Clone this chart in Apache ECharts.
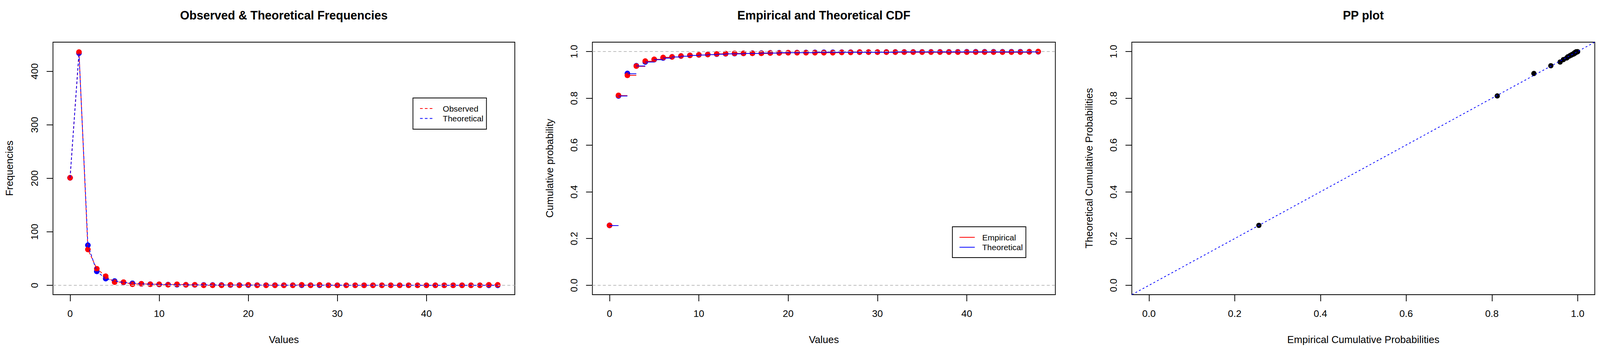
<!DOCTYPE html>
<html>
<head>
<meta charset="utf-8">
<script src="https://cdn.jsdelivr.net/npm/echarts@6/dist/echarts.min.js"></script>
<style>
html,body{margin:0;padding:0;background:#fff;overflow:hidden;}
#c{width:100vw;height:100vh;}
</style>
</head>
<body>
<div id="c"></div>
<script>
// ---------- data ----------
const values = [0,1,2,3,4,5,6,7,8,9,10,11,12,13,14,15,16,17,18,19,20,21,22,23,24,25,26,27,28,29,30,31,32,33,34,35,36,37,38,39,40,41,42,43,44,45,46,47,48];
const obsFreq = [201,436,67,31,17,6,6,2,3,2, 2,1,2,1,1,0,0,0,1,0, 1,0,0,0,0,0,1,0,1,0, 0,0,0,0,0,0,0,0,0,0, 0,0,0,0,0,0,0,1,1];
const theoFreq = [201,434,75,26,12.5,8,5.5,3.8,2.8,2.1, 1.7,1.4,1.15,0.97,0.83,0.72,0.63,0.55,0.49,0.44, 0.39,0.35,0.32,0.29,0.26,0.24,0.22,0.2,0.18,0.17, 0.16,0.15,0.14,0.13,0.12,0.11,0.1,0.095,0.09,0.085, 0.08,0.075,0.07,0.066,0.062,0.058,0.055,0.052,0.049];
const empCdf = [0.2564,0.8125,0.8980,0.9375,0.9592,0.9668,0.9745,0.9770,0.9809,0.9834, 0.9860,0.9872,0.9898,0.9911,0.9923,0.9923,0.9923,0.9923,0.9936,0.9936, 0.9949,0.9949,0.9949,0.9949,0.9949,0.9949,0.9962,0.9962,0.9974,0.9974, 0.9974,0.9974,0.9974,0.9974,0.9974,0.9974,0.9974,0.9974,0.9974,0.9974, 0.9974,0.9974,0.9974,0.9974,0.9974,0.9974,0.9974,0.9987,1.0];
const theoCdf = [0.2565,0.8100,0.9060,0.9392,0.9551,0.9653,0.9723,0.9772,0.9807,0.9834, 0.9856,0.9874,0.9888,0.9901,0.9911,0.9920,0.9928,0.9935,0.9941,0.9947, 0.9952,0.9956,0.9960,0.9963,0.9966,0.9968,0.9970,0.9972,0.9974,0.9976, 0.9977,0.9978,0.9979,0.9980,0.9981,0.9982,0.9983,0.9984,0.9985,0.9986, 0.9987,0.9988,0.9988,0.9989,0.9989,0.9990,0.9990,0.9991,0.9991];
const xTicks = [0,10,20,30,40];
const freqTicks = [0,100,200,300,400];
const probTicks = [0,0.2,0.4,0.6,0.8,1.0];
const titles = ['Observed & Theoretical Frequencies','Empirical and Theoretical CDF','PP plot'];
const xNames = ['Values','Values','Empirical Cumulative Probabilities'];
const yNames = ['Frequencies','Cumulative probability','Theoretical Cumulative Probabilities'];
const legend1 = ['Observed','Theoretical'];
const legend2 = ['Empirical','Theoretical'];

// ---------- layout / style (in reference pixels, scaled to the viewport) ----------
const S = window.innerWidth / 4289;
const SY = window.innerHeight / 907;
const px = v => v * S;
const py = v => v * SY;
const FONT = 'Liberation Sans';
const RED = '#ff0000', BLUE = '#0000ff', GREY = '#bebebe';
const gridPx = [
  {left:142, top:108, width:1238, height:647},
  {left:1588, top:108, width:1241, height:647},
  {left:3034, top:108, width:1241, height:647}
];
const grids = gridPx.map(g => ({left:px(g.left), top:py(g.top), width:px(g.width), height:py(g.height)}));

function xAxisCfg(i, min, max, ticks, fmt){
  return {
    type:'value', gridIndex:i, min:min, max:max, splitLine:{show:false},
    axisLine:{show:false, onZero:false},
    axisTick:{show:true, inside:false, length:py(17), customValues:ticks, lineStyle:{color:'#000', width:px(2)}},
    axisLabel:{show:true, customValues:ticks, margin:py(36), fontSize:px(26), fontFamily:FONT, color:'#000', formatter:fmt}
  };
}
function yAxisCfg(i, min, max, ticks, fmt){
  return {
    type:'value', gridIndex:i, min:min, max:max, splitLine:{show:false},
    axisLine:{show:false, onZero:false},
    axisTick:{show:true, inside:false, length:px(17), customValues:ticks, lineStyle:{color:'#000', width:px(2)}},
    axisLabel:{show:true, customValues:ticks, margin:px(36), rotate:90, fontSize:px(26), fontFamily:FONT, color:'#000', formatter:fmt}
  };
}
const intFmt = v => String(Math.round(v));
const decFmt = v => Number(v).toFixed(1);

const pts = (xs, ys) => xs.map((x,i)=>[x, ys[i]]);
// horizontal step from each value to the next one
const steps = (xs, ys) => xs.slice(0, -1).map((x,i)=>({coords:[[x, ys[i]],[xs[i+1], ys[i]]]}));
const dash = [px(7),px(5)];
const DOT = px(15);
const dot = c => ({color:c, opacity:1});

const series = [
  // panel 1
  {type:'scatter', xAxisIndex:0, yAxisIndex:0, data:pts(values, theoFreq), symbolSize:DOT, itemStyle:dot(BLUE), z:2,
   markLine:{silent:true, symbol:'none', label:{show:false}, lineStyle:{color:GREY, type:[px(8),px(6)], width:px(2), opacity:1}, data:[{yAxis:0}]}},
  {type:'scatter', xAxisIndex:0, yAxisIndex:0, data:pts(values, obsFreq), symbolSize:DOT, itemStyle:dot(RED), z:3},
  {type:'line', xAxisIndex:0, yAxisIndex:0, data:pts(values, obsFreq), showSymbol:false, lineStyle:{color:RED, width:px(2), type:dash, opacity:1}, z:4},
  {type:'line', xAxisIndex:0, yAxisIndex:0, data:pts(values, theoFreq), showSymbol:false, lineStyle:{color:BLUE, width:px(2), type:dash, opacity:1}, z:5},
  // panel 2
  {type:'scatter', xAxisIndex:1, yAxisIndex:1, data:pts(values, theoCdf), symbolSize:DOT, itemStyle:dot(BLUE), z:2,
   markLine:{silent:true, symbol:'none', label:{show:false}, lineStyle:{color:GREY, type:[px(8),px(6)], width:px(2), opacity:1}, data:[{yAxis:0},{yAxis:1}]}},
  {type:'scatter', xAxisIndex:1, yAxisIndex:1, data:pts(values, empCdf), symbolSize:DOT, itemStyle:dot(RED), z:3},
  {type:'lines', coordinateSystem:'cartesian2d', xAxisIndex:1, yAxisIndex:1, data:steps(values, empCdf), lineStyle:{color:RED, width:px(2), opacity:1}, z:4},
  {type:'lines', coordinateSystem:'cartesian2d', xAxisIndex:1, yAxisIndex:1, data:steps(values, theoCdf), lineStyle:{color:BLUE, width:px(2), opacity:1}, z:5},
  // panel 3
  {type:'scatter', xAxisIndex:2, yAxisIndex:2, data:pts(empCdf, theoCdf), symbolSize:px(14), itemStyle:dot('#000'), z:2,
   markLine:{silent:true, symbol:'none', label:{show:false}, lineStyle:{color:BLUE, type:[px(5),px(6)], width:px(2), opacity:1},
     data:[[{coord:[-0.04,-0.04]},{coord:[1.04,1.04]}]]}}
];

const graphic = [];
const centers = gridPx.map(g => g.left + g.width/2);
const yNameX = [25.5, 1473, 2919];
const font = (size, bold) => (bold ? 'bold ' : '') + px(size) + 'px "' + FONT + '"';
titles.forEach((t,i)=>graphic.push({type:'text', x:px(centers[i]), y:py(39), style:{text:t, font:font(32,true), fill:'#000', textAlign:'center', textVerticalAlign:'middle'}}));
xNames.forEach((t,i)=>graphic.push({type:'text', x:px(centers[i]), y:py(870), style:{text:t, font:font(27), fill:'#000', textAlign:'center', textVerticalAlign:'middle'}}));
yNames.forEach((t,i)=>graphic.push({type:'text', x:px(yNameX[i]), y:py(431), rotation:Math.PI/2, style:{text:t, font:font(27), fill:'#000', textAlign:'center', textVerticalAlign:'middle'}}));
// legend 1 (dashed)
graphic.push({type:'rect', shape:{x:px(1107), y:py(251), width:px(197), height:py(80)}, style:{fill:'#fff', stroke:'#000', lineWidth:px(2)}, z:50});
[RED, BLUE].forEach((c,k)=>{
  const y = 278 + k*25.5;
  graphic.push({type:'line', shape:{x1:px(1126), y1:py(y), x2:px(1161), y2:py(y)}, style:{stroke:c, lineWidth:px(2), lineDash:[px(7),px(6)]}, z:51});
  graphic.push({type:'text', x:px(1187), y:py(y), style:{text:legend1[k], font:font(22), fill:'#000', textVerticalAlign:'middle'}, z:51});
});
// legend 2 (solid)
graphic.push({type:'rect', shape:{x:px(2553), y:py(581), width:px(197), height:py(79)}, style:{fill:'#fff', stroke:'#000', lineWidth:px(2)}, z:50});
[RED, BLUE].forEach((c,k)=>{
  const y = 608 + k*25.5;
  graphic.push({type:'line', shape:{x1:px(2572), y1:py(y), x2:px(2613), y2:py(y)}, style:{stroke:c, lineWidth:px(2)}, z:51});
  graphic.push({type:'text', x:px(2633), y:py(y), style:{text:legend2[k], font:font(22), fill:'#000', textVerticalAlign:'middle'}, z:51});
});

const chart = echarts.init(document.getElementById('c'), null, {renderer:'svg'});
chart.setOption({
  animation:false,
  backgroundColor:'#fff',
  grid: grids.map(g => Object.assign({show:true, borderColor:'#000', borderWidth:px(2), backgroundColor:'transparent', containLabel:false}, g)),
  xAxis: [
    xAxisCfg(0, -1.92, 49.92, xTicks, intFmt),
    xAxisCfg(1, -1.92, 49.92, xTicks, intFmt),
    xAxisCfg(2, -0.04, 1.04, probTicks, decFmt)
  ],
  yAxis: [
    yAxisCfg(0, -17.48, 454.48, freqTicks, intFmt),
    yAxisCfg(1, -0.04, 1.04, probTicks, decFmt),
    yAxisCfg(2, -0.04, 1.04, probTicks, decFmt)
  ],
  series: series,
  graphic: graphic
});
</script>
</body>
</html>
